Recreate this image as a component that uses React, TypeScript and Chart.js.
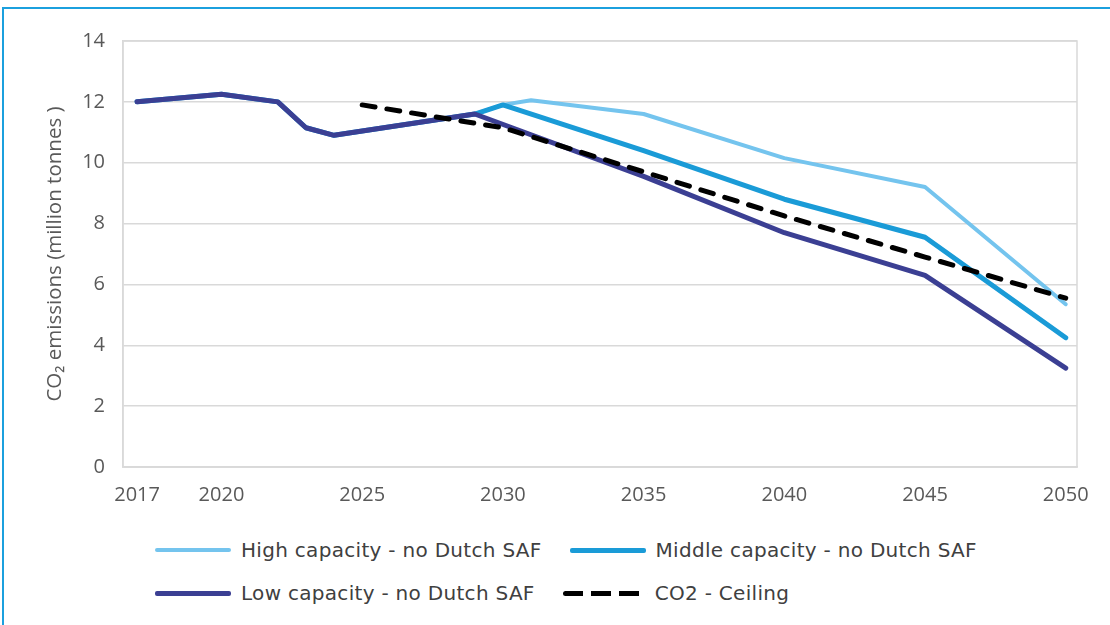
import React, { useEffect, useRef } from "react";
import { Chart, registerables } from "chart.js";

Chart.register(...registerables);

// ---- data ----
const tickYears = [2017, 2020, 2025, 2030, 2035, 2040, 2045, 2050];
const yTicks = [0, 2, 4, 6, 8, 10, 12, 14];

const highYears = [2017, 2020, 2022, 2023, 2024, 2029, 2030, 2031, 2035, 2040, 2045, 2050];
const highValues = [12.0, 12.25, 12.0, 11.15, 10.9, 11.6, 11.9, 12.05, 11.6, 10.15, 9.2, 5.35];

const midYears = [2017, 2020, 2022, 2023, 2024, 2029, 2030, 2035, 2040, 2045, 2050];
const midValues = [12.0, 12.25, 12.0, 11.15, 10.9, 11.6, 11.9, 10.4, 8.8, 7.55, 4.25];

const lowYears = [2017, 2020, 2022, 2023, 2024, 2029, 2035, 2040, 2045, 2050];
const lowValues = [12.0, 12.25, 12.0, 11.15, 10.9, 11.6, 9.55, 7.7, 6.3, 3.25];

const ceilYears = [2025, 2030, 2035, 2040, 2045, 2050];
const ceilValues = [11.9, 11.15, 9.7, 8.25, 6.9, 5.55];

const seriesNames = [
  "High capacity - no Dutch SAF",
  "Middle capacity - no Dutch SAF",
  "Low capacity - no Dutch SAF",
  "CO2 - Ceiling",
];
const seriesColors = ["#74c4ee", "#1a9bd7", "#3b3f93", "#000000"];

const toPoints = (xs: number[], ys: number[]) => xs.map((x, i) => ({ x, y: ys[i] }));

const FONT = "'Open Sans', 'Noto Sans', sans-serif";
const LEGEND_FONT = "'DejaVu Sans', Verdana, sans-serif";

const frameBox = {
  id: "frameBox",
  beforeDatasetsDraw(chart: any) {
    const { ctx, chartArea } = chart;
    ctx.save();
    ctx.strokeStyle = "#d9d9d9";
    ctx.lineWidth = 1.5;
    ctx.strokeRect(chartArea.left, chartArea.top, chartArea.right - chartArea.left, chartArea.bottom - chartArea.top);
    ctx.restore();
  },
};

function LegendItem({ idx }: { idx: number }) {
  const dashed = idx === 3;
  const color = seriesColors[idx];
  const sample: React.CSSProperties = dashed
    ? {
        width: 84,
        height: 5,
        backgroundImage: `repeating-linear-gradient(90deg, ${color} 0 20px, transparent 20px 28px)`,
        borderRadius: 3,
      }
    : { width: 76, height: idx === 0 ? 4 : 5, background: color, borderRadius: 2 };
  return (
    <div style={{ display: "flex", alignItems: "center" }}>
      <div style={sample} />
      <span style={{ marginLeft: dashed ? 8 : 10, whiteSpace: "nowrap" }}>{seriesNames[idx]}</span>
    </div>
  );
}

export default function App() {
  const canvasRef = useRef<HTMLCanvasElement | null>(null);

  useEffect(() => {
    const canvas = canvasRef.current;
    if (!canvas) return;
    const datasets = [
      { data: toPoints(highYears, highValues), width: 4, order: 3 },
      { data: toPoints(midYears, midValues), width: 5, order: 2 },
      { data: toPoints(lowYears, lowValues), width: 5, order: 1 },
      { data: toPoints(ceilYears, ceilValues), width: 5, order: 0 },
    ].map((d, i) => ({
      label: seriesNames[i],
      data: d.data,
      borderColor: seriesColors[i],
      backgroundColor: seriesColors[i],
      borderWidth: d.width,
      pointRadius: 0,
      tension: 0,
      fill: false,
      order: d.order,
      borderJoinStyle: "round" as const,
      borderCapStyle: "round" as any,
      borderDash: i === 3 ? [13, 12] : [],
    }));

    const chart = new Chart(canvas, {
      type: "line",
      data: { datasets },
      options: {
        animation: false,
        responsive: false,
        maintainAspectRatio: false,
        layout: { padding: { left: 0, top: 41, right: 33, bottom: 0 } },
        plugins: { legend: { display: false }, tooltip: { enabled: false } },
        scales: {
          x: {
            type: "linear",
            min: 2016.5,
            max: 2050.4,
            afterBuildTicks: (scale: any) => {
              scale.ticks = tickYears.map((v) => ({ value: v }));
            },
            afterFit: (scale: any) => {
              scale.height = 530 - 467;
            },
            grid: { display: false, drawTicks: false },
            border: { display: true, color: "#d9d9d9", width: 1.5 },
            ticks: {
              autoSkip: false,
              maxRotation: 0,
              padding: 16,
              color: "#595959",
              font: { family: FONT, size: 20 },
              callback: (v: any) => String(v),
            },
          },
          y: {
            min: 0,
            max: 14,
            afterBuildTicks: (scale: any) => {
              scale.ticks = yTicks.map((v) => ({ value: v }));
            },
            afterFit: (scale: any) => {
              scale.width = 123;
            },
            grid: { color: "#d9d9d9", lineWidth: 1.5, drawTicks: false },
            border: { display: true, color: "#d9d9d9", width: 1.5 },
            ticks: {
              padding: 18,
              color: "#595959",
              font: { family: FONT, size: 20 },
            },
            title: {
              display: true,
              text: "CO\u2082 emissions (million tonnes )",
              color: "#595959",
              font: { family: FONT, size: 20.5 },
              padding: { top: 43, bottom: 0 },
            },
          },
        },
      },
      plugins: [frameBox],
    });
    return () => chart.destroy();
  }, []);

  return (
    <div
      style={{
        position: "fixed",
        left: 0,
        top: 0,
        width: 1110,
        height: 625,
        background: "#ffffff",
        overflow: "hidden",
      }}
    >
      <div
        style={{
          position: "absolute",
          left: 2,
          top: 7,
          right: 0,
          bottom: 0,
          borderTop: "2px solid #1ba0de",
          borderLeft: "2px solid #1ba0de",
        }}
      />
      <canvas
        ref={canvasRef}
        width={1110}
        height={530}
        style={{ position: "absolute", left: 0, top: 0, width: 1110, height: 530 }}
      />
      <div
        style={{
          position: "absolute",
          left: 155,
          top: 536,
          fontFamily: LEGEND_FONT,
          fontSize: 20,
          letterSpacing: 0.3,
          color: "#404040",
          lineHeight: "28px",
        }}
      >
        <div style={{ display: "flex", gap: 28, height: 28 }}>
          <LegendItem idx={0} />
          <LegendItem idx={1} />
        </div>
        <div style={{ display: "flex", gap: 28, height: 28, marginTop: 15 }}>
          <LegendItem idx={2} />
          <LegendItem idx={3} />
        </div>
      </div>
    </div>
  );
}
